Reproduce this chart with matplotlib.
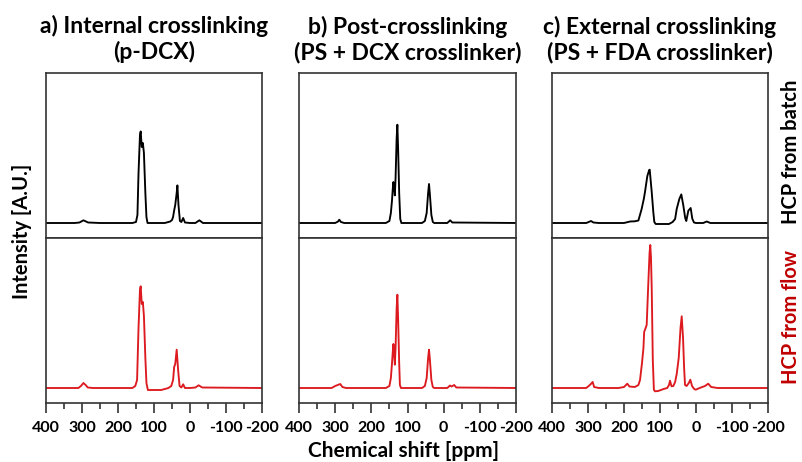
import matplotlib
matplotlib.use("Agg")
import matplotlib.pyplot as plt
from matplotlib.ticker import MultipleLocator

plt.rcParams['font.family'] = ['Lato', 'DejaVu Sans']
plt.rcParams['font.weight'] = 'bold'

RED = '#dc1a1f'
DARKRED = '#c00000'

titles = ["a) Internal crosslinking\n(p-DCX)",
          "b) Post-crosslinking\n(PS + DCX crosslinker)",
          "c) External crosslinking\n(PS + FDA crosslinker)"]
row_labels = ["HCP from batch", "HCP from flow"]
xticks = [400, 300, 200, 100, 0, -100, -200]

# spectra: chemical shift [ppm] and intensity [A.U.]
a_batch_ppm = [400, 320, 307, 296, 283, 250, 160, 150, 146, 143, 139, 137, 134, 131, 128, 124, 121, 118, 110,
               70, 55, 50, 47, 44, 41, 37, 35, 32, 28, 24, 19, 14, 0, -15, -26, -36, -200]
a_batch_int = [0, 0, 0.5, 2.7, 0.5, 0, 0, 1, 8, 50, 88, 91.6, 76, 80, 70, 30, 6, 0, 0,
               0, 1.5, 3, 6, 12.6, 18, 30, 37.6, 18, 2, 1, 5, 0.5, 0, 0, 2.7, 0, 0]

a_flow_ppm = [400, 310, 303, 296, 290, 284, 270, 160, 152, 147, 143, 139, 137, 134, 131, 128, 124, 121, 117,
              80, 60, 52, 47, 44, 41, 37, 33, 29, 24, 19, 14, 0, -15, -24, -34, -200]
a_flow_int = [0, 0, 2, 5, 3, 0.5, 0, 0, 2, 8, 60, 98, 101.7, 84, 86, 72, 30, 5, -2,
              -2, 0, 2, 8, 21, 24, 38.3, 18, 2, 0.5, 3.7, 0, 0, 0.5, 2.7, 0.5, 0]

b_batch_ppm = [400, 300, 292, 288.6, 284, 275, 160, 150, 146, 143, 140, 139, 137, 135, 133, 130, 128, 126, 123,
               120, 117, 60, 52, 47, 43, 40.5, 38, 34, 30, 26, -10, -18, -24, -200]
b_batch_int = [0, 0, 1.5, 3.3, 1, 0, 0, 2, 10, 22, 38, 41, 36, 27.6, 45, 85, 98.3, 75, 30,
               4, 0, 0, 2, 10, 30, 39, 28, 8, 1, 0, 0, 2.7, 0.5, 0]

b_flow_ppm = [400, 310, 300, 293, 286, 280, 270, 160, 150, 146, 143, 140, 139, 137, 135, 133, 130, 128, 126,
              123, 121, 118, 60, 52, 47, 43, 40.5, 38, 34, 30, 26, -10, -17.5, -22, -29, -35, -200]
b_flow_int = [0, 0, 2, 3, 4, 1, 0, 0, 2, 10, 24, 40, 44, 35, 23.3, 40, 80, 93.3, 70,
              25, 3, 0, 0, 2, 10, 30, 38.3, 28, 8, 1, 0, 0, 2.5, 1.5, 3, 0.5, 0]

c_batch_ppm = [400, 305, 298, 291.7, 285, 270, 200, 183, 170, 160, 151, 145, 141.7, 135.2, 130, 128.6, 123, 118.6,
               115.8, 112, 75, 65, 58, 53.6, 46.3, 40.8, 35.3, 30, 27, 21.3, 14.8, 10.3, 5.6, 0, -20, -29.7,
               -40, -200]
c_batch_int = [0, 0, 1, 2, 0.5, 0, 0, 1.5, 1.7, 2.5, 14, 24, 31, 47, 53, 53.3, 31, 11,
               1, -1, -1, 1, 4, 14, 24, 28.6, 17.7, 5, 2, 12.3, 15, 4.3, 0.5, 0, 0, 1.5,
               0, 0]

c_flow_ppm = [400, 305, 298, 292, 287, 283, 270, 215, 200, 190.8, 185, 170, 160, 155.5, 150, 146, 144, 139, 137,
              133, 129, 127, 125, 123, 120, 117, 114, 105, 90, 80, 75, 72.2, 68, 63, 58, 53.6, 48, 43,
              39.7, 36, 33, 30.5, 26, 20, 15.8, 11, 5, 0.8, -10, -25, -34, -42, -60, -200]
c_flow_int = [0, 0, 2, 4, 6, 1, 0, 0, 1, 4.3, 1.5, 1, 3, 8, 25, 40, 56, 61, 63,
              100, 135, 143, 130, 100, 28, -1.7, -3.3, -3, -1, 0, 3, 7.3, 1.7, 2, 6, 14, 30, 60,
              71.7, 50, 20, 3, 2, 5, 8.3, 2, -1, -1.7, 0, 2, 4.3, 1, 0, 0]

spectra = [[(a_batch_ppm, a_batch_int), (b_batch_ppm, b_batch_int), (c_batch_ppm, c_batch_int)],
           [(a_flow_ppm, a_flow_int), (b_flow_ppm, b_flow_int), (c_flow_ppm, c_flow_int)]]

fig = plt.figure(figsize=(8.02, 4.62), dpi=100)

lefts = [46 / 802, 299 / 802, 552 / 802]
widths = [216 / 802, 217 / 802, 216 / 802]
bottoms = [(462 - 238) / 462, (462 - 403) / 462]
h = 165 / 462

for r in range(2):
    for c in range(3):
        ax = fig.add_axes([lefts[c], bottoms[r], widths[c], h])
        ppm, inten = spectra[r][c]
        ax.plot(ppm, inten, color='black' if r == 0 else RED, lw=1.35)
        ax.set_xlim(400, -200)
        ax.set_ylim(-15, 150)
        ax.set_yticks([])
        for s in ax.spines.values():
            s.set_color('#333333')
            s.set_linewidth(1.2)
        if r == 0:
            ax.set_xticks([])
            ax.set_title(titles[c], fontsize=16.5, fontweight='bold', pad=10, linespacing=1.2)
        else:
            ax.set_xticks(xticks)
            ax.set_xticklabels([str(t) for t in xticks])
            ax.xaxis.set_minor_locator(MultipleLocator(50))
            ax.tick_params(axis='x', which='major', direction='out', length=7, width=1.2,
                           color='#333333', labelsize=11.5, pad=6)
            ax.tick_params(axis='x', which='minor', direction='out', length=4, width=1.2,
                           color='#333333')
            for lab in ax.get_xticklabels():
                lab.set_fontweight('bold')

fig.text(22 / 802, 1 - 231 / 462, "Intensity [A.U.]", rotation=90, ha='center', va='center',
         fontsize=14.5, fontweight='bold')
fig.text(404 / 802, 1 - 451 / 462, "Chemical shift [ppm]", ha='center', va='center',
         fontsize=15, fontweight='bold')
fig.text(791 / 802, 1 - 152 / 462, row_labels[0], rotation=90, ha='center', va='center',
         fontsize=14.5, fontweight='bold', color='black')
fig.text(791 / 802, 1 - 317 / 462, row_labels[1], rotation=90, ha='center', va='center',
         fontsize=14.5, fontweight='bold', color=DARKRED)

fig.savefig("out.png", dpi=100)
